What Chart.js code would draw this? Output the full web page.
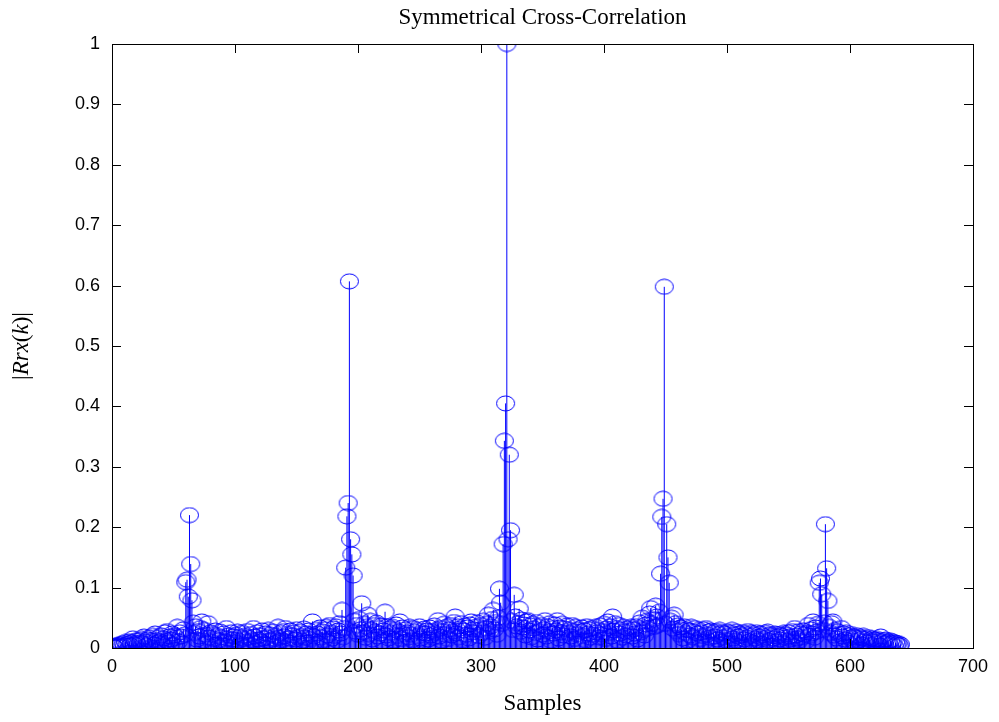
<!DOCTYPE html>
<html>
<head>
<meta charset="utf-8">
<title>Symmetrical Cross-Correlation</title>
<script src="https://cdn.jsdelivr.net/npm/chart.js@4.4.1/dist/chart.umd.min.js"></script>
<style>
  html, body { margin: 0; padding: 0; background: #fff; }
  #wrap { width: 999px; height: 722px; }
</style>
</head>
<body>
<div id="wrap"><canvas id="xcorr" width="999" height="722"></canvas></div>
<script>
// --- data ---
const TITLE = 'Symmetrical Cross-Correlation';
const X_LABEL = 'Samples';
const X_TICKS = [0, 100, 200, 300, 400, 500, 600, 700];
const Y_TICKS = [0, 0.1, 0.2, 0.3, 0.4, 0.5, 0.6, 0.7, 0.8, 0.9, 1];
const FIRST_SAMPLE = 1;

// |Rrx(k)|, one value per sample, 20 per row
const magnitude = [
  /*   1 */ 0.003, 0.001, 0.004, 0.002, 0.005, 0.003, 0.006, 0.002, 0.008, 0.004, 0.010, 0.005, 0.007, 0.011, 0.004, 0.009, 0.016, 0.006, 0.012, 0.008,
  /*  21 */ 0.005, 0.013, 0.009, 0.015, 0.007, 0.019, 0.011, 0.004, 0.014, 0.017, 0.008, 0.012, 0.020, 0.006, 0.024, 0.013, 0.009, 0.018, 0.011, 0.021,
  /*  41 */ 0.007, 0.016, 0.026, 0.012, 0.028, 0.009, 0.019, 0.014, 0.024, 0.005, 0.021, 0.017, 0.035, 0.011, 0.026, 0.019, 0.008, 0.031, 0.022, 0.109,
  /*  61 */ 0.113, 0.085, 0.220, 0.139, 0.079, 0.042, 0.025, 0.036, 0.014, 0.028, 0.019, 0.033, 0.044, 0.012, 0.030, 0.022, 0.008, 0.041, 0.017, 0.026,
  /*  81 */ 0.010, 0.023, 0.015, 0.029, 0.006, 0.020, 0.013, 0.027, 0.018, 0.004, 0.024, 0.011, 0.033, 0.016, 0.021, 0.007, 0.026, 0.014, 0.019, 0.009,
  /* 101 */ 0.022, 0.027, 0.012, 0.018, 0.005, 0.025, 0.015, 0.020, 0.010, 0.028, 0.017, 0.006, 0.023, 0.013, 0.033, 0.019, 0.008, 0.026, 0.014, 0.021,
  /* 121 */ 0.011, 0.029, 0.016, 0.007, 0.024, 0.018, 0.030, 0.012, 0.022, 0.005, 0.027, 0.015, 0.020, 0.009, 0.035, 0.017, 0.025, 0.013, 0.028, 0.019,
  /* 141 */ 0.033, 0.010, 0.023, 0.016, 0.029, 0.006, 0.021, 0.026, 0.014, 0.031, 0.018, 0.008, 0.027, 0.020, 0.012, 0.032, 0.017, 0.024, 0.009, 0.029,
  /* 161 */ 0.015, 0.022, 0.044, 0.019, 0.011, 0.030, 0.024, 0.007, 0.034, 0.018, 0.027, 0.013, 0.031, 0.035, 0.021, 0.010, 0.038, 0.025, 0.016, 0.032,
  /* 181 */ 0.020, 0.036, 0.012, 0.029, 0.041, 0.024, 0.063, 0.018, 0.033, 0.133, 0.218, 0.240, 0.607, 0.180, 0.155, 0.120, 0.045, 0.027, 0.038, 0.022,
  /* 201 */ 0.048, 0.031, 0.074, 0.026, 0.040, 0.017, 0.035, 0.055, 0.023, 0.045, 0.030, 0.014, 0.038, 0.027, 0.042, 0.019, 0.033, 0.024, 0.037, 0.011,
  /* 221 */ 0.029, 0.060, 0.021, 0.036, 0.016, 0.032, 0.025, 0.035, 0.012, 0.030, 0.039, 0.020, 0.027, 0.044, 0.015, 0.034, 0.023, 0.009, 0.031, 0.026,
  /* 241 */ 0.018, 0.035, 0.022, 0.013, 0.033, 0.027, 0.008, 0.030, 0.020, 0.036, 0.016, 0.025, 0.011, 0.032, 0.024, 0.029, 0.014, 0.034, 0.021, 0.028,
  /* 261 */ 0.017, 0.037, 0.025, 0.030, 0.046, 0.019, 0.033, 0.012, 0.028, 0.040, 0.023, 0.035, 0.015, 0.031, 0.038, 0.021, 0.027, 0.043, 0.052, 0.024,
  /* 281 */ 0.036, 0.018, 0.032, 0.041, 0.013, 0.029, 0.037, 0.022, 0.034, 0.016, 0.039, 0.044, 0.026, 0.031, 0.010, 0.035, 0.042, 0.020, 0.030, 0.038,
  /* 301 */ 0.025, 0.045, 0.017, 0.033, 0.040, 0.055, 0.028, 0.036, 0.048, 0.063, 0.031, 0.043, 0.022, 0.050, 0.098, 0.075, 0.040, 0.172, 0.343, 0.405,
  /* 321 */ 1.000, 0.180, 0.320, 0.195, 0.045, 0.030, 0.088, 0.052, 0.036, 0.041, 0.065, 0.027, 0.047, 0.034, 0.039, 0.021, 0.044, 0.046, 0.029, 0.037,
  /* 341 */ 0.018, 0.040, 0.032, 0.025, 0.043, 0.014, 0.035, 0.028, 0.038, 0.022, 0.031, 0.046, 0.019, 0.036, 0.027, 0.041, 0.012, 0.033, 0.024, 0.039,
  /* 361 */ 0.029, 0.046, 0.016, 0.034, 0.026, 0.040, 0.021, 0.032, 0.011, 0.037, 0.025, 0.030, 0.019, 0.038, 0.028, 0.015, 0.035, 0.023, 0.031, 0.008,
  /* 381 */ 0.027, 0.034, 0.020, 0.029, 0.013, 0.036, 0.024, 0.031, 0.017, 0.033, 0.022, 0.009, 0.035, 0.026, 0.030, 0.018, 0.037, 0.023, 0.028, 0.040,
  /* 401 */ 0.015, 0.032, 0.044, 0.025, 0.036, 0.019, 0.052, 0.029, 0.041, 0.033, 0.012, 0.038, 0.024, 0.030, 0.017, 0.035, 0.027, 0.021, 0.032, 0.010,
  /* 421 */ 0.028, 0.035, 0.019, 0.031, 0.024, 0.036, 0.014, 0.033, 0.042, 0.026, 0.050, 0.030, 0.021, 0.039, 0.045, 0.033, 0.057, 0.066, 0.040, 0.048,
  /* 441 */ 0.035, 0.070, 0.052, 0.038, 0.060, 0.123, 0.217, 0.247, 0.598, 0.040, 0.205, 0.150, 0.108, 0.045, 0.050, 0.032, 0.055, 0.041, 0.028, 0.037,
  /* 461 */ 0.023, 0.034, 0.030, 0.016, 0.036, 0.025, 0.031, 0.012, 0.029, 0.021, 0.035, 0.018, 0.027, 0.033, 0.009, 0.024, 0.030, 0.015, 0.026, 0.020,
  /* 481 */ 0.031, 0.011, 0.033, 0.022, 0.027, 0.017, 0.029, 0.006, 0.025, 0.019, 0.028, 0.014, 0.023, 0.030, 0.010, 0.026, 0.018, 0.024, 0.013, 0.027,
  /* 501 */ 0.020, 0.008, 0.025, 0.030, 0.016, 0.022, 0.012, 0.027, 0.019, 0.024, 0.005, 0.021, 0.026, 0.014, 0.023, 0.017, 0.028, 0.011, 0.020, 0.025,
  /* 521 */ 0.009, 0.022, 0.016, 0.026, 0.013, 0.019, 0.024, 0.007, 0.021, 0.015, 0.025, 0.018, 0.027, 0.012, 0.022, 0.004, 0.020, 0.016, 0.024, 0.011,
  /* 541 */ 0.019, 0.023, 0.014, 0.021, 0.008, 0.025, 0.017, 0.022, 0.012, 0.026, 0.019, 0.015, 0.028, 0.010, 0.033, 0.021, 0.016, 0.027, 0.013, 0.024,
  /* 561 */ 0.018, 0.029, 0.022, 0.011, 0.026, 0.038, 0.020, 0.031, 0.024, 0.044, 0.017, 0.034, 0.027, 0.040, 0.108, 0.115, 0.089, 0.030, 0.042, 0.205,
  /* 581 */ 0.132, 0.078, 0.035, 0.025, 0.041, 0.044, 0.021, 0.030, 0.016, 0.027, 0.023, 0.011, 0.033, 0.019, 0.024, 0.014, 0.026, 0.009, 0.021, 0.017,
  /* 601 */ 0.023, 0.012, 0.019, 0.008, 0.017, 0.021, 0.013, 0.018, 0.006, 0.016, 0.020, 0.011, 0.015, 0.009, 0.018, 0.013, 0.005, 0.016, 0.011, 0.014,
  /* 621 */ 0.008, 0.015, 0.012, 0.004, 0.019, 0.010, 0.013, 0.007, 0.014, 0.009, 0.011, 0.005, 0.012, 0.008, 0.010, 0.003, 0.009, 0.006, 0.008, 0.004,
  /* 641 */ 0.006
];

const STEM_BLUE = '#0000ff';
const SERIF = "'Liberation Serif', 'Times New Roman', serif";
const SANS = "'Liberation Sans', Arial, sans-serif";

// sample axis is just the index of each value
const points = magnitude.map((v, i) => ({ x: FIRST_SAMPLE + i, y: v }));

// MATLAB-style 'o' marker: slightly wider than tall
function makeMarker() {
  const c = document.createElement('canvas');
  c.width = 21; c.height = 17;
  const g = c.getContext('2d');
  g.strokeStyle = STEM_BLUE;
  g.lineWidth = 1;
  g.beginPath();
  g.ellipse(10.5, 8.5, 9, 7.5, 0, 0, Math.PI * 2);
  g.stroke();
  return c;
}

const stemPlot = {
  id: 'stemPlot',
  beforeDatasetsDraw(chart) {
    const ctx = chart.ctx;
    const y0 = chart.scales.y.getPixelForValue(0);
    const meta = chart.getDatasetMeta(0);
    ctx.save();
    ctx.strokeStyle = STEM_BLUE;
    ctx.lineWidth = 1;
    ctx.beginPath();
    meta.data.forEach(pt => {
      ctx.moveTo(pt.x, y0);
      ctx.lineTo(pt.x, pt.y);
    });
    ctx.stroke();
    ctx.restore();
  },
  afterDraw(chart) {
    const ctx = chart.ctx;
    const a = chart.chartArea;
    const xs = chart.scales.x, ys = chart.scales.y;
    const tick = 9;
    ctx.save();
    ctx.strokeStyle = '#000';
    ctx.lineWidth = 1;
    ctx.strokeRect(Math.round(a.left) + 0.5, Math.round(a.top) + 0.5,
                   Math.round(a.right - a.left), Math.round(a.bottom - a.top));
    ctx.beginPath();
    X_TICKS.forEach(v => {
      const x = Math.round(xs.getPixelForValue(v)) + 0.5;
      ctx.moveTo(x, a.bottom); ctx.lineTo(x, a.bottom - tick);
      ctx.moveTo(x, a.top); ctx.lineTo(x, a.top + tick);
    });
    Y_TICKS.forEach(v => {
      const y = Math.round(ys.getPixelForValue(v)) + 0.5;
      ctx.moveTo(a.left, y); ctx.lineTo(a.left + tick, y);
      ctx.moveTo(a.right, y); ctx.lineTo(a.right - tick, y);
    });
    ctx.stroke();

    // title and axis labels (serif, like the original figure)
    const cx = (a.left + a.right) / 2;
    ctx.fillStyle = '#000';
    ctx.textAlign = 'center';
    ctx.textBaseline = 'middle';
    ctx.font = '23px ' + SERIF;
    ctx.fillText(TITLE, cx, 18);
    ctx.fillText(X_LABEL, cx, 704);

    // |Rrx(k)| with italic symbols
    const parts = [['|', false], ['Rrx', true], ['(', false], ['k', true], [')|', false]];
    const fontOf = it => (it ? 'italic ' : '') + '23px ' + SERIF;
    let total = 0;
    parts.forEach(p => { ctx.font = fontOf(p[1]); total += ctx.measureText(p[0]).width; });
    ctx.translate(22, (a.top + a.bottom) / 2);
    ctx.rotate(-Math.PI / 2);
    ctx.textAlign = 'left';
    let pos = -total / 2;
    parts.forEach(p => {
      ctx.font = fontOf(p[1]);
      ctx.fillText(p[0], pos, 0);
      pos += ctx.measureText(p[0]).width;
    });
    ctx.restore();
  }
};

new Chart(document.getElementById('xcorr'), {
  type: 'scatter',
  data: {
    datasets: [{
      label: '|Rrx(k)|',
      data: points,
      pointStyle: makeMarker(),
      pointRadius: 9,
      borderColor: STEM_BLUE,
      backgroundColor: 'transparent'
    }]
  },
  options: {
    responsive: false,
    animation: false,
    events: [],
    layout: { padding: { top: 44, right: 26, left: 0, bottom: 0 } },
    plugins: {
      legend: { display: false },
      tooltip: { enabled: false },
      title: { display: false }
    },
    scales: {
      x: {
        type: 'linear',
        min: 0, max: 700,
        afterFit: s => { s.height = 74; },
        afterBuildTicks: s => { s.ticks = X_TICKS.map(v => ({ value: v })); },
        grid: { display: false, drawTicks: false },
        border: { display: false },
        ticks: { color: '#000', font: { family: SANS, size: 18 }, padding: 8, maxRotation: 0 }
      },
      y: {
        type: 'linear',
        min: 0, max: 1,
        afterFit: s => { s.width = 112; },
        afterBuildTicks: s => { s.ticks = Y_TICKS.map(v => ({ value: v })); },
        grid: { display: false, drawTicks: false },
        border: { display: false },
        ticks: { color: '#000', font: { family: SANS, size: 18 }, padding: 12,
                 callback: v => String(+v.toFixed(1)) }
      }
    }
  },
  plugins: [stemPlot]
});
</script>
</body>
</html>
